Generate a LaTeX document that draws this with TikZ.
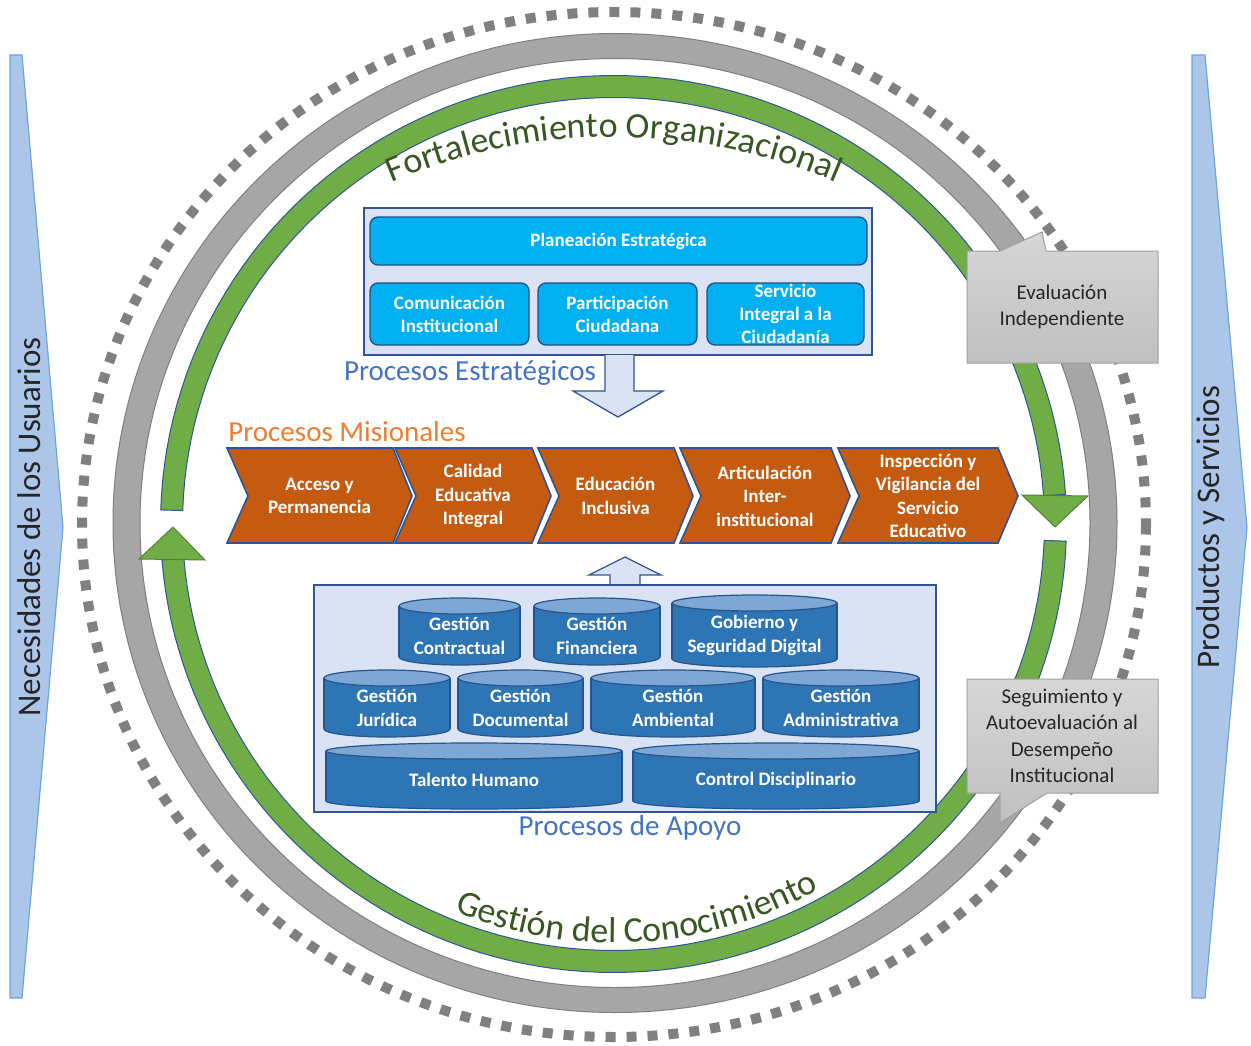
\documentclass[tikz,border=0pt]{standalone}
\usepackage{fontspec}
\setmainfont{Carlito}
\usetikzlibrary{decorations.text}
\definecolor{sideblue}{RGB}{172,198,233}
\definecolor{sideedge}{RGB}{110,165,220}
\definecolor{ringgray}{RGB}{166,166,166}
\definecolor{ringedge}{RGB}{127,127,127}
\definecolor{dotgray}{RGB}{128,128,128}
\definecolor{ringgreen}{RGB}{112,173,71}
\definecolor{greenedge}{RGB}{84,130,53}
\definecolor{darkblue}{RGB}{47,85,151}
\definecolor{paleblue}{RGB}{218,227,243}
\definecolor{cyanbox}{RGB}{0,176,240}
\definecolor{cyanedge}{RGB}{38,78,130}
\definecolor{titleblue}{RGB}{68,114,196}
\definecolor{titleorange}{RGB}{237,125,49}
\definecolor{chevfill}{RGB}{197,90,17}
\definecolor{cylbodyc}{RGB}{46,117,182}
\definecolor{cyltopc}{RGB}{127,167,214}
\definecolor{cylline}{RGB}{37,85,140}
\definecolor{arctext}{RGB}{56,87,35}
\definecolor{calltop}{RGB}{214,214,214}
\definecolor{callbot}{RGB}{192,192,192}
\definecolor{calledge}{RGB}{160,160,160}
\tikzset{
  sidearrow/.style={fill=sideblue, draw=sideedge, line width=1.2},
  sidelabel/.style={font=\fontsize{33}{36}\selectfont, text=black!85, inner sep=0},
  panel/.style={fill=paleblue, draw=darkblue, line width=1.6},
  blockarrow/.style={fill=paleblue, draw=darkblue, line width=1.3},
  stratbox/.style={rectangle, rounded corners=8, fill=cyanbox, draw=cyanedge, line width=1.3, text=white, font=\bfseries\fontsize{19}{23}\selectfont, align=center, inner sep=0},
  chev/.style={fill=chevfill, draw=darkblue, line width=1.6},
  chevtext/.style={text=white, font=\bfseries\fontsize{19}{23.5}\selectfont, align=center, inner sep=0},
  grouptitle/.style={font=\fontsize{29}{32}\selectfont, inner sep=0},
  cylbase/.style={fill=cylbodyc, draw=cylline, line width=1.2},
  cylside/.style={draw=cylline, line width=1.2},
  cyltopstyle/.style={fill=cyltopc, draw=cylline, line width=1.2},
  cyltext/.style={text=white, font=\bfseries\fontsize{19}{24}\selectfont, align=center, inner sep=0},
  callout/.style={top color=calltop, bottom color=callbot, draw=calledge, line width=1},
  calltext/.style={text=black!85, font=\fontsize{21}{26.5}\selectfont, align=center, inner sep=0},
  greenband/.style={fill=ringgreen, draw=darkblue, line width=1},
  greenhead/.style={fill=ringgreen, draw=greenedge, line width=1},
}
\newcommand{\chevshape}[5]{%
  \filldraw[chev] (#2,448) -- (#3,448) -- (#4,496) -- (#3,543) -- (#2,543) -- ({#2+21},496) -- cycle;
  \node[chevtext] (#1) at ({(#2+#4)/2},496) {#5};
}
\newcommand{\supcyl}[6]{%
  \pgfmathsetmacro\cxm{(#2+#4)/2}%
  \pgfmathsetmacro\crx{(#4-#2)/2}%
  \filldraw[cylbase] (\cxm,#5-8) ellipse [x radius=\crx, y radius=8];
  \fill[cylbodyc] (#2,#3+8) rectangle (#4,#5-8);
  \draw[cylside] (#2,#3+8) -- (#2,#5-8) (#4,#3+8) -- (#4,#5-8);
  \filldraw[cyltopstyle] (\cxm,#3+8) ellipse [x radius=\crx, y radius=8];
  \node[cyltext] (#1) at (\cxm,{(#3+8+#5)/2}) {#6};
}
\begin{document}
\begin{tikzpicture}[x=1pt,y=-1pt]
\useasboundingbox (0,0) rectangle (1251,1046);
\fill[white] (0,0) rectangle (1251,1046);
% side arrows
\filldraw[sidearrow] (10,55) -- (22,55) -- (63,527) -- (22,998) -- (10,998) -- cycle;
\node[sidelabel, rotate=90] (needs) at (29,527) {Necesidades de los Usuarios};
\filldraw[sidearrow] (1192,55) -- (1205,55) -- (1247,527) -- (1205,998) -- (1192,998) -- cycle;
\node[sidelabel, rotate=90] (prods) at (1211,527) {Productos y Servicios};
% dotted ring
\draw[dotgray, line width=10, dash pattern=on 10 off 11] (614,524.5) ellipse [x radius=532, y radius=512.5];
% gray ring
\filldraw[even odd rule, fill=ringgray, draw=ringedge, line width=1]
  (615,523) ellipse [x radius=502, y radius=489.5]
  (615,523) ellipse [x radius=475, y radius=464.5];
% green arcs
\filldraw[greenband] plot[domain=181.8:356.2, samples=90] ({613.5+453*cos(\x)}, {524+448.5*sin(\x)})
  -- plot[domain=356.2:181.8, samples=90] ({613.5+431*cos(\x)}, {524+426.5*sin(\x)}) -- cycle;
\filldraw[greenband] plot[domain=2.2:175.4, samples=90] ({613.5+453*cos(\x)}, {524+448.5*sin(\x)})
  -- plot[domain=175.4:2.2, samples=90] ({613.5+431*cos(\x)}, {524+426.5*sin(\x)}) -- cycle;
\filldraw[greenhead] (139,559) -- (205,560) -- (173,527) -- cycle;
\filldraw[greenhead] (1022,495) -- (1088,496) -- (1055,527) -- cycle;
% arc texts
\path[decorate, decoration={text along path, text align=center,
  text={|\fontsize{36}{36}\selectfont\color{arctext}|Fortalecimiento Organizacional}}]
  plot[domain=240:300, samples=80] ({614+567*cos(\x)}, {704+567*sin(\x)});
\path[decorate, decoration={text along path, text align=center,
  text={|\fontsize{36}{36}\selectfont\color{arctext}|Gestión del Conocimiento}}]
  plot[domain=126.5:46.5, samples=80] ({614+419*cos(\x)}, {524+419*sin(\x)});
% strategic processes
\filldraw[panel] (364,208) rectangle (872,355);
\node[stratbox, minimum width=497, minimum height=48] (plan) at (618.5,241) {Planeación Estratégica};
\node[stratbox, minimum width=159, minimum height=62] (comu) at (449.5,314) {Comunicación\\Institucional};
\node[stratbox, minimum width=159, minimum height=62] (part) at (617.5,314) {Participación\\Ciudadana};
\node[stratbox, minimum width=157, minimum height=62] (serv) at (785.5,314) {Servicio\\Integral a la\\Ciudadanía};
\filldraw[blockarrow] (605,355) -- (605,391) -- (573,391) -- (618,417) -- (663,391) -- (634,391) -- (634,355);
\node[grouptitle, text=titleblue] (estr) at (470,373) {Procesos Estratégicos};
% missional processes
\node[grouptitle, text=titleorange] (mis) at (347,432) {Procesos Misionales};
\chevshape{acc}{227}{393}{412}{Acceso y\\Permanencia}
\chevshape{cal}{395}{532}{551}{Calidad\\Educativa\\Integral}
\chevshape{edu}{538}{674}{693}{Educación\\Inclusiva}
\chevshape{art}{680}{831}{850}{Articulación\\Inter-\\institucional}
\chevshape{ins}{838}{998}{1018}{Inspección y\\Vigilancia del\\Servicio\\Educativo}
% support processes
\filldraw[blockarrow] (610,585) -- (610,575) -- (589,575) -- (625,557) -- (661,575) -- (640,575) -- (640,585);
\filldraw[panel] (314,585) rectangle (936,812);
\supcyl{gcon}{399}{598}{520}{665}{Gestión\\Contractual}
\supcyl{gfin}{534}{598}{660}{665}{Gestión\\Financiera}
\supcyl{gob}{672}{595}{837}{667}{Gobierno y\\Seguridad Digital}
\supcyl{gjur}{324}{670}{450}{737}{Gestión\\Jurídica}
\supcyl{gdoc}{458}{670}{583}{737}{Gestión\\Documental}
\supcyl{gamb}{591}{670}{755}{737}{Gestión\\Ambiental}
\supcyl{gadm}{763}{670}{919}{737}{Gestión\\Administrativa}
\supcyl{tal}{326}{743}{622}{809}{Talento Humano}
\supcyl{ctl}{633}{743}{919}{809}{Control Disciplinario}
\node[grouptitle, text=titleblue] (apoyo) at (630,828) {Procesos de Apoyo};
% callouts
\path[callout] (967,251) -- (1000,251) -- (1042,232) -- (1046,251) -- (1158,251) -- (1158,363) -- (967,363) -- cycle;
\node[calltext] (evalind) at (1062,307) {Evaluación\\Independiente};
\path[callout] (967,679) -- (1158,679) -- (1158,793) -- (1047,793) -- (1000,823) -- (1000,793) -- (967,793) -- cycle;
\node[calltext] (segui) at (1062,736) {Seguimiento y\\Autoevaluación al\\Desempeño\\Institucional};
\end{tikzpicture}
\end{document}
